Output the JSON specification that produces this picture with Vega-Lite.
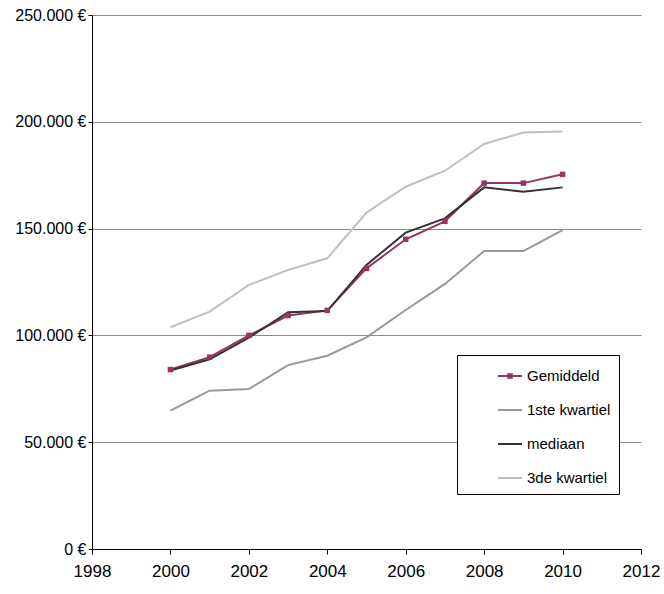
{
  "$schema": "https://vega.github.io/schema/vega-lite/v6.json",
  "autosize": "none",
  "width": 549,
  "height": 534,
  "padding": {"left": 92, "top": 15, "right": 23, "bottom": 45},
  "background": "white",
  "config": {
    "view": {"stroke": null},
    "font": "Liberation Sans",
    "locale": {"number": {"decimal": ",", "thousands": ".", "grouping": [3], "currency": ["", " €"]}}
  },
  "data": {
    "values": [
      {"jaar": 2000, "reeks": "Gemiddeld", "waarde": 84000},
      {"jaar": 2001, "reeks": "Gemiddeld", "waarde": 89800},
      {"jaar": 2002, "reeks": "Gemiddeld", "waarde": 100000},
      {"jaar": 2003, "reeks": "Gemiddeld", "waarde": 109300},
      {"jaar": 2004, "reeks": "Gemiddeld", "waarde": 111700},
      {"jaar": 2005, "reeks": "Gemiddeld", "waarde": 131400},
      {"jaar": 2006, "reeks": "Gemiddeld", "waarde": 145000},
      {"jaar": 2007, "reeks": "Gemiddeld", "waarde": 153400},
      {"jaar": 2008, "reeks": "Gemiddeld", "waarde": 171300},
      {"jaar": 2009, "reeks": "Gemiddeld", "waarde": 171300},
      {"jaar": 2010, "reeks": "Gemiddeld", "waarde": 175400},
      {"jaar": 2000, "reeks": "1ste kwartiel", "waarde": 64800},
      {"jaar": 2001, "reeks": "1ste kwartiel", "waarde": 74100},
      {"jaar": 2002, "reeks": "1ste kwartiel", "waarde": 74900},
      {"jaar": 2003, "reeks": "1ste kwartiel", "waarde": 86100},
      {"jaar": 2004, "reeks": "1ste kwartiel", "waarde": 90500},
      {"jaar": 2005, "reeks": "1ste kwartiel", "waarde": 99100},
      {"jaar": 2006, "reeks": "1ste kwartiel", "waarde": 111900},
      {"jaar": 2007, "reeks": "1ste kwartiel", "waarde": 124100},
      {"jaar": 2008, "reeks": "1ste kwartiel", "waarde": 139500},
      {"jaar": 2009, "reeks": "1ste kwartiel", "waarde": 139500},
      {"jaar": 2010, "reeks": "1ste kwartiel", "waarde": 149300},
      {"jaar": 2000, "reeks": "mediaan", "waarde": 83600},
      {"jaar": 2001, "reeks": "mediaan", "waarde": 88800},
      {"jaar": 2002, "reeks": "mediaan", "waarde": 98900},
      {"jaar": 2003, "reeks": "mediaan", "waarde": 110800},
      {"jaar": 2004, "reeks": "mediaan", "waarde": 111400},
      {"jaar": 2005, "reeks": "mediaan", "waarde": 133000},
      {"jaar": 2006, "reeks": "mediaan", "waarde": 148100},
      {"jaar": 2007, "reeks": "mediaan", "waarde": 154800},
      {"jaar": 2008, "reeks": "mediaan", "waarde": 169300},
      {"jaar": 2009, "reeks": "mediaan", "waarde": 167300},
      {"jaar": 2010, "reeks": "mediaan", "waarde": 169300},
      {"jaar": 2000, "reeks": "3de kwartiel", "waarde": 103800},
      {"jaar": 2001, "reeks": "3de kwartiel", "waarde": 111100},
      {"jaar": 2002, "reeks": "3de kwartiel", "waarde": 123600},
      {"jaar": 2003, "reeks": "3de kwartiel", "waarde": 130600},
      {"jaar": 2004, "reeks": "3de kwartiel", "waarde": 136100},
      {"jaar": 2005, "reeks": "3de kwartiel", "waarde": 157500},
      {"jaar": 2006, "reeks": "3de kwartiel", "waarde": 169600},
      {"jaar": 2007, "reeks": "3de kwartiel", "waarde": 177100},
      {"jaar": 2008, "reeks": "3de kwartiel", "waarde": 189600},
      {"jaar": 2009, "reeks": "3de kwartiel", "waarde": 195000},
      {"jaar": 2010, "reeks": "3de kwartiel", "waarde": 195500}
    ]
  },
  "encoding": {
    "x": {
      "field": "jaar", "type": "quantitative",
      "scale": {"domain": [1998, 2012], "nice": false, "zero": false},
      "axis": {
        "title": null, "values": [1998, 2000, 2002, 2004, 2006, 2008, 2010, 2012],
        "format": "d", "grid": false, "domainColor": "#000000", "tickColor": "#000000",
        "tickSize": 5, "labelFontSize": 17, "labelColor": "#000000", "labelPadding": 9,
        "labelFlush": false
      }
    },
    "y": {
      "field": "waarde", "type": "quantitative",
      "scale": {"domain": [0, 250000], "nice": false},
      "axis": {
        "title": null, "values": [0, 50000, 100000, 150000, 200000, 250000],
        "format": ",.0f", "labelExpr": "datum.label + ' €'",
        "grid": true, "gridColor": "#8c8c8c", "gridWidth": 1,
        "domainColor": "#000000", "tickColor": "#000000", "tickSize": 4,
        "labelFontSize": 16, "labelColor": "#000000", "labelPadding": 2
      }
    },
    "color": {
      "field": "reeks", "type": "nominal",
      "scale": {
        "domain": ["Gemiddeld", "1ste kwartiel", "mediaan", "3de kwartiel"],
        "range": ["#993366", "#999999", "#333333", "#c0c0c0"]
      },
      "legend": {
        "title": null, "orient": "none", "legendX": 365, "legendY": 340,
        "strokeColor": "#000000", "fillColor": "#ffffff", "padding": 8,
        "symbolType": "stroke", "symbolSize": 576, "symbolStrokeWidth": 2,
        "symbolOffset": 32, "labelOffset": 4, "rowPadding": 13,
        "labelFontSize": 15, "labelColor": "#000000",
        "labelExpr": "datum.label + '\u00a0\u00a0\u00a0\u00a0\u00a0\u00a0\u00a0\u00a0\u00a0\u00a0\u00a0\u00a0\u00a0'",
        "encode": {
          "symbols": {
            "update": {
              "shape": {"signal": "datum.value === 'Gemiddeld' ? 'M-1,0H1M-0.15,-0.15H0.15V0.15H-0.15Z' : 'M-1,0H1'"}
            }
          }
        }
      }
    }
  },
  "layer": [
    {"mark": {"type": "line", "strokeWidth": 2}},
    {
      "transform": [{"filter": "datum.reeks === 'Gemiddeld'"}],
      "mark": {"type": "point", "shape": "square", "filled": true, "size": 30, "opacity": 1},
      "encoding": {"color": {"field": "reeks", "type": "nominal", "legend": null, "scale": {"domain": ["Gemiddeld", "1ste kwartiel", "mediaan", "3de kwartiel"], "range": ["#993366", "#999999", "#333333", "#c0c0c0"]}}}
    }
  ]
}
